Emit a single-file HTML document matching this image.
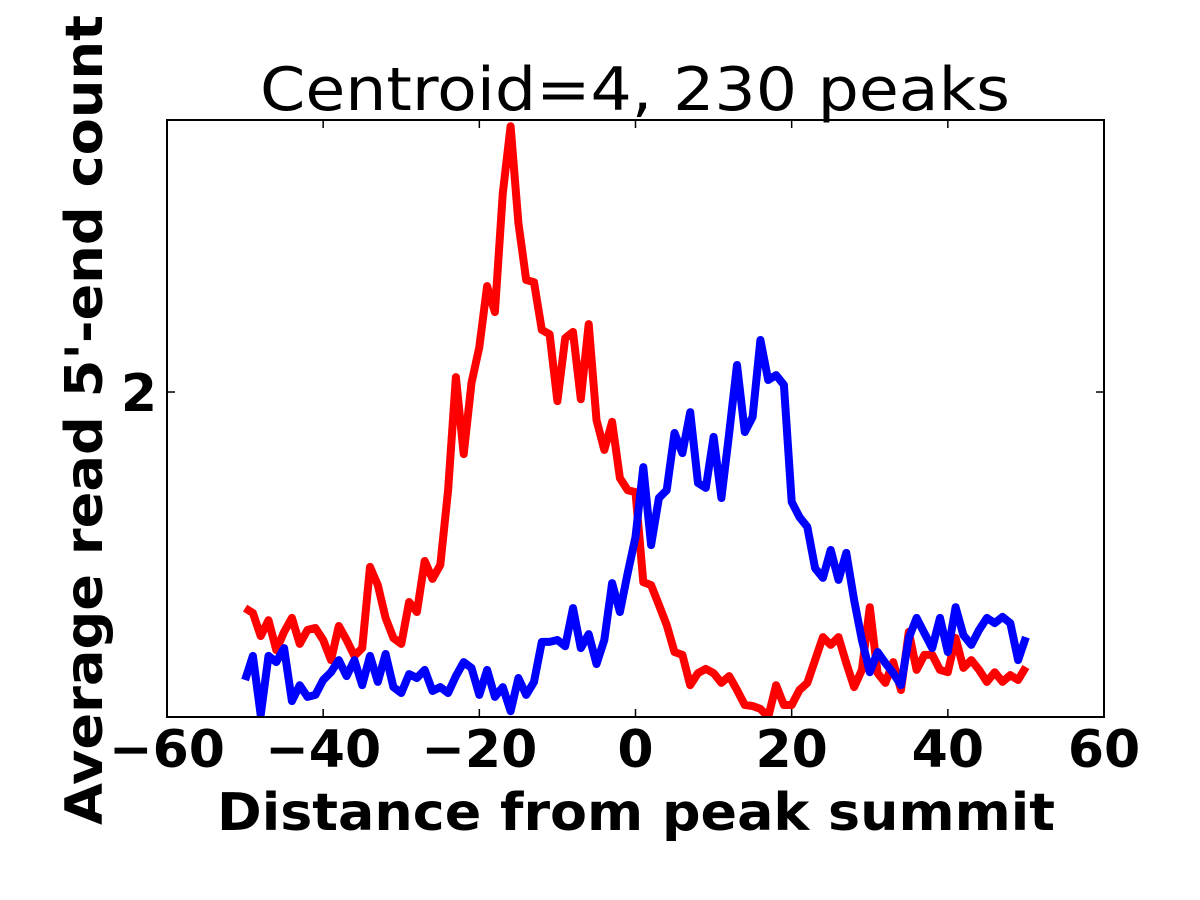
<!DOCTYPE html>
<html><head><meta charset="utf-8"><style>
html,body{margin:0;padding:0;background:#fff;}
svg{display:block;}
text{font-family:"DejaVu Sans","Liberation Sans",sans-serif;}
</style></head><body>
<svg id="chart" width="1200" height="900" viewBox="0 0 1200 900" xmlns="http://www.w3.org/2000/svg">
<rect x="0" y="0" width="1200" height="900" fill="#fff"/>
<defs><clipPath id="plotclip"><rect x="167" y="120" width="937" height="597"/></clipPath></defs>
<text x="635" y="110" font-size="60" text-anchor="middle" textLength="750" lengthAdjust="spacingAndGlyphs">Centroid=4, 230 peaks</text>
<g id="series" clip-path="url(#plotclip)"></g>
<rect x="167" y="120" width="937" height="597" fill="none" stroke="#000" stroke-width="2"/>
<g id="ticks"></g>
<text x="636" y="830" font-size="52" font-weight="bold" text-anchor="middle" textLength="838" lengthAdjust="spacingAndGlyphs">Distance from peak summit</text>
<text transform="translate(102,420) rotate(-90)" font-size="52" font-weight="bold" text-anchor="middle" textLength="810" lengthAdjust="spacingAndGlyphs">Average read 5'-end count</text>
</svg>
<script>
const positions = [];
for (let i = -50; i <= 50; i++) positions.push(i);
const redValues = [1.335,1.32,1.249,1.298,1.206,1.262,1.305,1.225,1.268,1.274,1.237,1.175,1.28,1.237,1.188,1.212,1.462,1.406,1.305,1.243,1.225,1.354,1.323,1.48,1.425,1.468,1.698,2.046,1.809,2.028,2.138,2.326,2.246,2.612,2.818,2.52,2.345,2.338,2.191,2.178,1.972,2.166,2.185,1.978,2.209,1.914,1.822,1.908,1.735,1.698,1.692,
1.415,1.406,1.345,1.283,1.2,1.191,1.098,1.135,1.148,1.135,1.105,1.126,1.083,1.037,1.034,1.025,1.0,1.098,1.037,1.037,1.083,1.105,1.175,1.246,1.222,1.246,1.166,1.092,1.145,1.338,1.135,1.105,1.169,1.083,1.262,1.145,1.191,1.191,1.145,1.138,1.243,1.151,1.175,1.145,1.108,1.138,1.108,1.129,1.114,1.154];
const blueValues = [1.114,1.188,1.006,1.188,1.169,1.212,1.049,1.098,1.062,1.068,1.114,1.138,1.175,1.126,1.175,1.098,1.188,1.108,1.194,1.092,1.074,1.132,1.12,1.145,1.08,1.092,1.074,1.126,1.169,1.151,1.068,1.145,1.062,1.092,1.018,1.12,1.068,1.108,1.231,1.231,1.237,1.218,1.335,1.212,1.255,1.163,1.237,1.412,1.323,1.443,1.554,
1.769,1.529,1.674,1.698,1.874,1.812,1.938,1.72,1.705,1.862,1.674,1.874,2.083,1.877,1.923,2.16,2.037,2.052,2.022,1.662,1.615,1.585,1.458,1.428,1.514,1.422,1.505,1.36,1.237,1.138,1.2,1.166,1.135,1.098,1.243,1.305,1.258,1.212,1.305,1.2,1.338,1.252,1.222,1.268,1.305,1.289,1.308,1.289,1.175,1.246];
const xTicks = [-60,-40,-20,0,20,40,60];
const yTicks = [2];
const xDomain = [-60, 60];
const yDomain = [1.0, 2.837];

const NS = "http://www.w3.org/2000/svg";
const L = 167, R = 1104, T = 120, B = 717;
function xScale(v){ return L + (v - xDomain[0]) / (xDomain[1] - xDomain[0]) * (R - L); }
function yScale(v){ return B - (v - yDomain[0]) / (yDomain[1] - yDomain[0]) * (B - T); }

const seriesG = document.getElementById('series');
function drawLine(vals, color, name){
  const p = document.createElementNS(NS, 'polyline');
  p.setAttribute('points', vals.map((v,i)=>xScale(positions[i]).toFixed(1)+','+yScale(v).toFixed(1)).join(' '));
  p.setAttribute('fill','none');
  p.setAttribute('stroke',color);
  p.setAttribute('stroke-width','8');
  p.setAttribute('stroke-linejoin','round');
  
  
  seriesG.appendChild(p);
}
drawLine(redValues, '#ff0000', 'red-series-line');
drawLine(blueValues, '#0000ff', 'blue-series-line');

const tg = document.getElementById('ticks');
function mk(tag, attrs){ const e = document.createElementNS(NS, tag); for (const k in attrs) e.setAttribute(k, attrs[k]); tg.appendChild(e); return e; }
xTicks.forEach(v=>{
  const x = xScale(v);
  const t1 = mk('line',{x1:x,x2:x,y1:B,y2:B-8,stroke:'#000','stroke-width':1.5});
  
  
  const t2 = mk('line',{x1:x,x2:x,y1:T,y2:T+8,stroke:'#000','stroke-width':1.5});
  
  
  const lb = mk('text',{x:x,y:767,'font-size':52,'font-weight':'bold','text-anchor':'middle'});
  lb.textContent = v < 0 ? '\u2212' + Math.abs(v) : String(v);
  
  
});
yTicks.forEach(v=>{
  const y = yScale(v);
  const t1 = mk('line',{x1:L,x2:L+8,y1:y,y2:y,stroke:'#000','stroke-width':1.5});
  
  
  const t2 = mk('line',{x1:R-8,x2:R,y1:y,y2:y,stroke:'#000','stroke-width':1.5});
  
  
  const lb = mk('text',{x:157,y:y+19,'font-size':52,'font-weight':'bold','text-anchor':'end'});
  lb.textContent = String(v);
  
  
});
</script>
</body></html>
